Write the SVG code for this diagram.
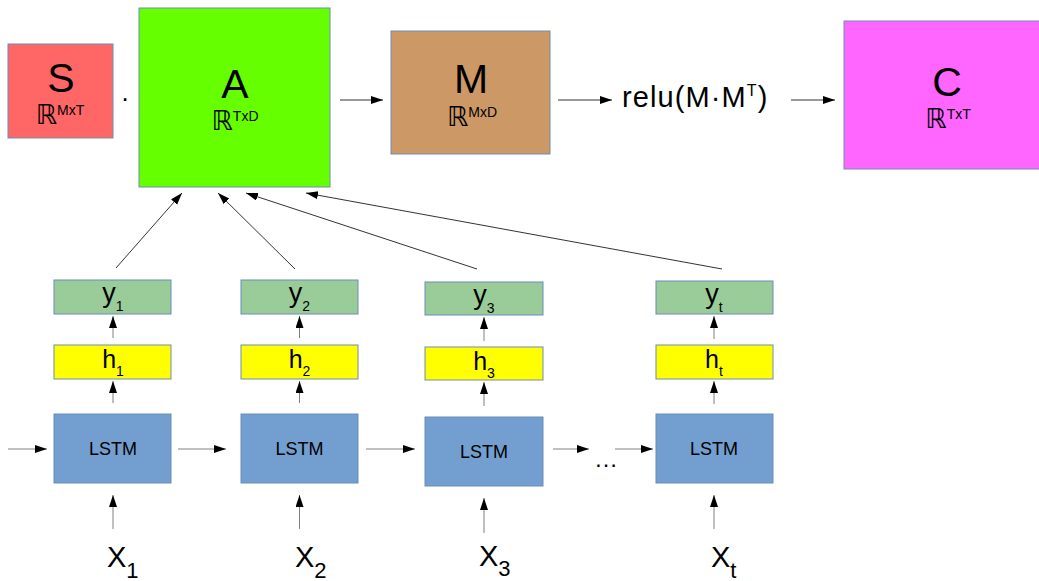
<svg xmlns="http://www.w3.org/2000/svg" width="1039" height="581" viewBox="0 0 1039 581">
<style>
text{font-family:"Liberation Sans",Arial,sans-serif;fill:#000}
.box{stroke:#6d8cb5;stroke-width:1}
.big{font-size:41px;text-anchor:middle}
.rr{text-anchor:middle}
.dbl{font-family:"DejaVu Sans",sans-serif;font-size:27px}
.sup{font-size:14px}
.ly{font-size:27px;text-anchor:middle}
.lh{font-size:25px;text-anchor:middle}
.sub{font-size:14px}
.lstm{font-size:18px;text-anchor:middle}
.xl{font-size:29px}
.xs{font-size:22px}
.con{stroke:#808080;stroke-width:1;fill:none;marker-end:url(#ah)}
.top{stroke:#333;stroke-width:1;fill:none;marker-end:url(#ah)}
</style>
<defs>
<marker id="ah" markerUnits="userSpaceOnUse" markerWidth="13" markerHeight="9" refX="12" refY="4" orient="auto">
<path d="M0,0 L12,4 L0,8 z" fill="#000"/>
</marker>
</defs>
<rect width="1039" height="581" fill="#fff"/>

<g id="S">
<rect class="box" x="8" y="44" width="105" height="94" fill="#ff6666"/>
<text class="big" x="61" y="92">S</text>
<text class="rr" x="60" y="124"><tspan class="dbl">ℝ</tspan><tspan class="sup" dy="-9">MxT</tspan></text>
</g>
<text id="dot" x="125" y="107" font-size="26" text-anchor="middle">·</text>

<g id="A">
<rect class="box" x="139" y="8" width="191" height="179" fill="#66ff00"/>
<text class="big" x="235" y="98">A</text>
<text class="rr" x="235" y="130"><tspan class="dbl">ℝ</tspan><tspan class="sup" dy="-9">TxD</tspan></text>
</g>

<g id="M">
<rect class="box" x="391" y="31" width="159" height="123" fill="#cc9966"/>
<text class="big" x="471" y="93">M</text>
<text class="rr" x="472" y="126"><tspan class="dbl">ℝ</tspan><tspan class="sup" dy="-9">MxD</tspan></text>
</g>

<g id="relu">
<text x="622" y="107" font-size="29" letter-spacing="1.1">relu(M·M<tspan font-size="16" dy="-11">T</tspan><tspan dy="11">)</tspan></text>
</g>

<g id="C">
<rect class="box" x="844" y="21" width="210" height="148" fill="#ff66ff"/>
<text class="big" x="947" y="96">C</text>
<text class="rr" x="948" y="128"><tspan class="dbl">ℝ</tspan><tspan class="sup" dy="-9">TxT</tspan></text>
</g>

<g id="col1">
<rect class="box" x="54" y="280" width="117" height="34" fill="#99cc99"/>
<text class="ly" x="113" y="302">y<tspan class="sub" dy="9">1</tspan></text>
<rect class="box" x="54" y="345" width="117" height="34" fill="#ffff00"/>
<text class="lh" x="113" y="368">h<tspan class="sub" dy="8">1</tspan></text>
<rect class="box" x="54" y="414" width="117" height="69" fill="#729fcf"/>
<text class="lstm" x="113" y="455">LSTM</text>
<text x="107" y="567"><tspan class="xl">X</tspan><tspan class="xs" dy="11">1</tspan></text>
</g>

<g id="col2">
<rect class="box" x="241" y="280" width="117" height="34" fill="#99cc99"/>
<text class="ly" x="299.5" y="302">y<tspan class="sub" dy="9">2</tspan></text>
<rect class="box" x="241" y="345" width="117" height="34" fill="#ffff00"/>
<text class="lh" x="299.5" y="368">h<tspan class="sub" dy="8">2</tspan></text>
<rect class="box" x="241" y="414" width="117" height="69" fill="#729fcf"/>
<text class="lstm" x="299.5" y="455">LSTM</text>
<text x="295" y="567"><tspan class="xl">X</tspan><tspan class="xs" dy="11">2</tspan></text>
</g>

<g id="col3">
<rect class="box" x="425" y="282" width="118" height="33" fill="#99cc99"/>
<text class="ly" x="484" y="304">y<tspan class="sub" dy="9">3</tspan></text>
<rect class="box" x="425" y="347" width="118" height="33" fill="#ffff00"/>
<text class="lh" x="484" y="370">h<tspan class="sub" dy="8">3</tspan></text>
<rect class="box" x="425" y="417" width="118" height="69" fill="#729fcf"/>
<text class="lstm" x="484" y="458">LSTM</text>
<text x="479" y="566"><tspan class="xl">X</tspan><tspan class="xs" dy="10">3</tspan></text>
</g>

<g id="colt">
<rect class="box" x="656" y="281" width="117" height="33" fill="#99cc99"/>
<text class="ly" x="714" y="303">y<tspan class="sub" dy="9">t</tspan></text>
<rect class="box" x="656" y="345" width="117" height="34" fill="#ffff00"/>
<text class="lh" x="714" y="368">h<tspan class="sub" dy="8">t</tspan></text>
<rect class="box" x="656" y="414" width="117" height="69" fill="#729fcf"/>
<text class="lstm" x="714" y="455">LSTM</text>
<text x="711" y="567"><tspan class="xl">X</tspan><tspan class="xs" dy="11">t</tspan></text>
</g>

<text id="ellipsis" x="606" y="467" font-size="24" text-anchor="middle">…</text>

<g id="connectors">
<path class="top" d="M340,100 H383"/>
<path class="top" d="M558,100 H612"/>
<path class="top" d="M791,100 H835"/>
<path class="top" d="M116,268 L182,193"/>
<path class="top" d="M295,269 L218,193"/>
<path class="top" d="M477,269 L246,193"/>
<path class="top" d="M722,269 L306,193"/>

<path class="con" d="M113,338 V316"/>
<path class="con" d="M113,403 V381"/>
<path class="con" d="M113,529 V495"/>
<path class="con" d="M299.5,338 V316"/>
<path class="con" d="M299.5,403 V381"/>
<path class="con" d="M299.5,529 V495"/>
<path class="con" d="M484,341 V317"/>
<path class="con" d="M484,406 V382"/>
<path class="con" d="M484,533 V498"/>
<path class="con" d="M714,339 V316"/>
<path class="con" d="M714,404 V381"/>
<path class="con" d="M714,529 V495"/>

<path class="con" d="M8,449 H47"/>
<path class="con" d="M178,449 H226"/>
<path class="con" d="M366,449 H415"/>
<path class="con" d="M553,449 H589"/>
<path class="con" d="M615,449 H653"/>
</g>
</svg>
